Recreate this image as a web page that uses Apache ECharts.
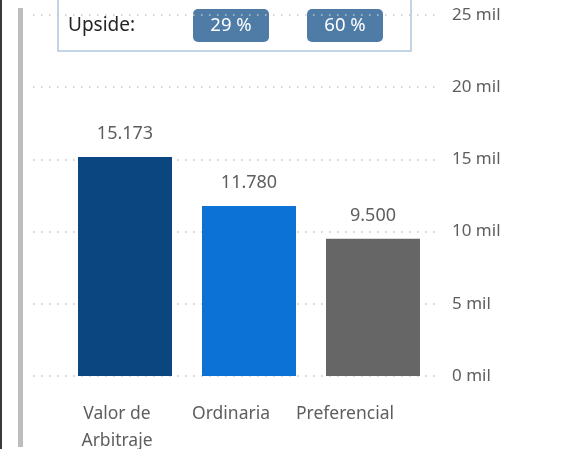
<!DOCTYPE html>
<html>
<head>
<meta charset="utf-8">
<script src="https://cdn.jsdelivr.net/npm/echarts@6/dist/echarts.min.js"></script>
<style>
  html, body { margin: 0; padding: 0; background: #fff; }
  #main { width: 570px; height: 449px; }
</style>
</head>
<body>
<div id="main"></div>
<script>
var categories = ['Valor de\nArbitraje', 'Ordinaria', 'Preferencial'];
var values = [15173, 11780, 9500];
var barColors = ['#0B4680', '#0D72D6', '#666666'];
var upside = [29, 60];

var font = '"Noto Sans", "Open Sans", sans-serif';

function fmtThousands(v) {
  return String(v).replace(/\B(?=(\d{3})+(?!\d))/g, '.');
}

var myChart = echarts.init(document.getElementById('main'));

var pills = upside.map(function (u, i) {
  var x = 193 + i * 114;
  return {
    type: 'group',
    children: [
      { type: 'rect', shape: { x: x, y: 9, width: 76, height: 33, r: 5 }, style: { fill: '#4F7BA7' } },
      { type: 'text', style: { text: u + ' %', x: x + 38, y: 26, align: 'center', verticalAlign: 'middle', fill: '#fff', font: '18.5px ' + font } }
    ]
  };
});

option = {
  animation: false,
  grid: [
    { left: 63, right: 135, top: 15, bottom: 73, outerBoundsMode: 'none' },
    { left: 33, right: 133, top: 15, bottom: 73, outerBoundsMode: 'none' },
    { left: 60, right: 168, top: 15, bottom: 73, outerBoundsMode: 'none' }
  ],
  xAxis: [
    { type: 'category', gridIndex: 0, data: categories, axisLine: { show: false }, axisTick: { show: false }, axisLabel: { show: false } },
    { type: 'value', gridIndex: 1, show: false },
    {
      type: 'category', gridIndex: 2, data: categories,
      axisLine: { show: false }, axisTick: { show: false },
      axisLabel: { margin: 25, color: '#605E5C', fontSize: 17.5, lineHeight: 27, fontFamily: font, interval: 0 }
    }
  ],
  yAxis: [
    { type: 'value', gridIndex: 0, min: 0, max: 25000, show: false },
    {
      type: 'value', gridIndex: 1, position: 'right', min: 0, max: 25000, interval: 5000,
      axisLine: { show: false }, axisTick: { show: false },
      axisLabel: { margin: 15, color: '#605E5C', fontSize: 17, fontFamily: font, formatter: function (v) { return v / 1000 + ' mil'; } },
      splitLine: { lineStyle: { color: '#C8C6C4', width: 1.5, type: [1.5, 6.5] } }
    },
    { type: 'value', gridIndex: 2, show: false }
  ],
  series: [
    {
      type: 'bar',
      xAxisIndex: 0,
      yAxisIndex: 0,
      barWidth: 94,
      data: values.map(function (v, i) {
        return { value: v, itemStyle: { color: barColors[i] } };
      }),
      label: {
        show: true,
        position: 'top',
        distance: 14,
        color: '#605E5C',
        fontSize: 18,
        fontFamily: font,
        formatter: function (p) { return fmtThousands(p.value); }
      }
    }
  ],
  graphic: [
    { type: 'rect', shape: { x: 0, y: 0, width: 2, height: 449 }, style: { fill: '#3a3a3a' } },
    { type: 'rect', shape: { x: 18, y: 8, width: 5, height: 439 }, style: { fill: '#BDBDBD' } },
    { type: 'rect', shape: { x: 58, y: -5, width: 353, height: 56 }, style: { fill: 'none', stroke: '#B0C6DD', lineWidth: 1.5 } },
    { type: 'text', style: { text: 'Upside:', x: 68, y: 26, verticalAlign: 'middle', fill: '#252423', font: '19px ' + font } }
  ].concat(pills)
};

myChart.setOption(option);
</script>
</body>
</html>
